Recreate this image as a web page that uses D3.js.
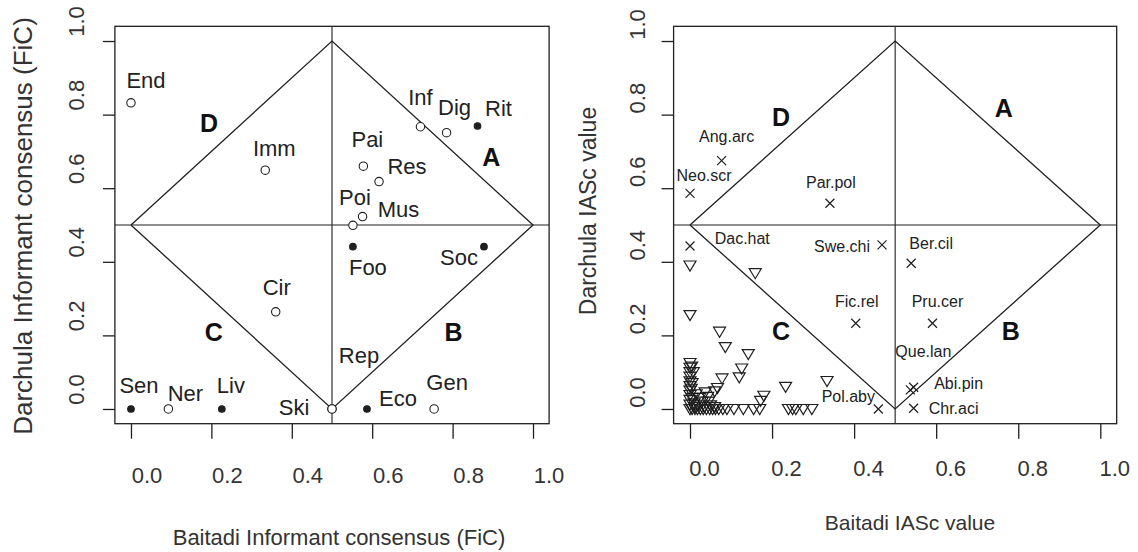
<!DOCTYPE html>
<html>
<head>
<meta charset="utf-8">
<script src="https://cdn.jsdelivr.net/npm/d3@7"></script>
<style>
  body { margin: 0; background: #fff; }
  svg { display: block; font-family: "Liberation Sans", Arial, sans-serif; }
</style>
</head>
<body>
<div id="chart"></div>
<script>
// left panel: informant consensus factor per use category
const ficNames    = ["End", "Imm", "Pai", "Res", "Poi", "Mus", "Inf", "Dig", "Rit", "Foo", "Soc", "Cir", "Sen", "Ner", "Liv", "Ski", "Rep", "Eco", "Gen"];
const ficBaitadi  = [0.0, 0.334, 0.578, 0.617, 0.552, 0.576, 0.72, 0.785, 0.862, 0.552, 0.878, 0.36, 0.0, 0.093, 0.226, 0.5, 0.5, 0.587, 0.754];
const ficDarchula = [0.832, 0.649, 0.66, 0.618, 0.499, 0.523, 0.767, 0.751, 0.769, 0.441, 0.441, 0.264, 0.0, 0.0, 0.0, 0.0, 0.0, 0.0, 0.0];
const ficFilled   = [false, false, false, false, false, false, false, false, true, true, true, false, true, false, true, false, false, true, false];

// right panel: labelled species (crosses)
const iasNames    = ["Ang.arc", "Neo.scr", "Par.pol", "", "Swe.chi", "Ber.cil", "Fic.rel", "Pru.cer", "Que.lan", "Abi.pin", "Chr.aci", "Pol.aby"];
const iasBaitadi  = [0.077, 0.0, 0.341, 0.0, 0.468, 0.539, 0.404, 0.591, 0.537, 0.545, 0.545, 0.459];
const iasDarchula = [0.675, 0.586, 0.559, 0.443, 0.446, 0.396, 0.233, 0.233, 0.052, 0.059, 0.002, 0.0];

// right panel: other species (triangles), first one is labelled
const triNames    = ["Dac.hat"];
const triBaitadi  = [0.159, 0.0, 0.0, 0.072, 0.086, 0.142, 0.126, 0.12, 0.078, 0.067, 0.037, 0.043, 0.233, 0.334, 0.18, 0.172, 0.06,
                     0.0, 0.0, 0.0, 0.0, 0.0, 0.0, 0.0, 0.0, 0.0, 0.0, 0.0,
                     0.004, 0.008, 0.005, 0.003, 0.006, 0.01, 0.015, 0.02, 0.03, 0.012, 0.035, 0.05, 0.06, 0.024, 0.045,
                     0.005, 0.012, 0.018, 0.025, 0.032, 0.04, 0.048, 0.055, 0.062, 0.07, 0.08, 0.09, 0.107, 0.13, 0.155, 0.17, 0.24, 0.25, 0.258, 0.276, 0.297];
const triDarchula = [0.369, 0.39, 0.255, 0.21, 0.168, 0.149, 0.11, 0.086, 0.083, 0.057, 0.045, 0.033, 0.06, 0.076, 0.036, 0.022, 0.048,
                     0.125, 0.112, 0.1, 0.088, 0.075, 0.062, 0.05, 0.038, 0.025, 0.012, 0.0,
                     0.115, 0.1, 0.07, 0.055, 0.03, 0.015, 0.04, 0.01, 0.02, 0.005, 0.005, 0.01, 0.005, 0.03, 0.02,
                     0.0, 0.0, 0.0, 0.0, 0.0, 0.0, 0.0, 0.0, 0.0, 0.0, 0.0, 0.0, 0.0, 0.0, 0.0, 0.0, 0.0, 0.0, 0.0, 0.0, 0.0];

const axisTicks = [0, 0.2, 0.4, 0.6, 0.8, 1.0];
const quadLetters = ["A", "B", "C", "D"];
const ficQuadX = [0.896, 0.802, 0.206, 0.194];
const ficQuadY = [0.685, 0.209, 0.209, 0.777];
const iasQuadX = [0.765, 0.782, 0.222, 0.222];
const iasQuadY = [0.817, 0.21, 0.21, 0.794];
const diamond = [[0, 0.5], [0.5, 1], [1, 0.5], [0.5, 0], [0, 0.5]];

// label offsets (px) from each point
const ficLabelOff = [[15,-23],[9,-22],[4,-27],[28,-15],[2,-28],[36,-7],[0,-29],[8,-25],[21,-18],[15,21],[-25,11],[1,-25],[8,-24],[17,-16],[9,-24],[-38,-2],[27,-54],[31,-11],[13,-27]];
const iasLabelOff = [[5,-24],[14,-18],[1,-21],[0,0],[-40,2],[20,-20],[1,-22],[5,-22],[13,-38],[45,-4],[40,0],[-30,-13]];
const triLabelOff = [[-13,-35]];

const ink = "#1f1f1f";
const svg = d3.select("#chart").append("svg").attr("width", 1138).attr("height", 552);

const y = d3.scaleLinear().domain([-0.04, 1.04]).range([423.7, 26.3]);

function drawPanel(p) {
  const x = d3.scaleLinear().domain([-0.04, 1.04]).range(p.xRange);
  const g = svg.append("g");
  const line = d3.line().x(function(d) { return x(d[0]); }).y(function(d) { return y(d[1]); });

  g.append("rect")
    .attr("x", p.xRange[0]).attr("y", y.range()[1])
    .attr("width", p.xRange[1] - p.xRange[0]).attr("height", y.range()[0] - y.range()[1])
    .attr("fill", "none").attr("stroke", ink).attr("stroke-width", 1.3);

  g.append("line").attr("x1", x(0.5)).attr("x2", x(0.5)).attr("y1", y(-0.04)).attr("y2", y(1.04))
    .attr("stroke", ink).attr("stroke-width", 1.1);
  g.append("line").attr("x1", x(-0.04)).attr("x2", x(1.04)).attr("y1", y(0.5)).attr("y2", y(0.5))
    .attr("stroke", ink).attr("stroke-width", 1.1);
  g.append("path").attr("d", line(diamond)).attr("fill", "none").attr("stroke", ink).attr("stroke-width", 1.3);

  // x axis
  const xa = g.append("g").attr("transform", "translate(0," + y.range()[0] + ")")
    .call(d3.axisBottom(x).tickValues(axisTicks).tickSize(15).tickFormat(d3.format(".1f")));
  xa.select(".domain").remove();
  xa.attr("color", ink).attr("font-size", 22).attr("font-family", null);
  xa.selectAll("line").attr("stroke-width", 1.3);
  xa.selectAll("text")
    .attr("x", p.xLabelDx).attr("y", p.xLabelY - y.range()[0]).attr("dy", "0.35em").attr("fill", "#333");

  // y axis
  const ya = g.append("g").attr("transform", "translate(" + p.xRange[0] + ",0)")
    .call(d3.axisLeft(y).tickValues(axisTicks).tickSize(12).tickFormat(d3.format(".1f")));
  ya.select(".domain").remove();
  ya.attr("color", ink).attr("font-size", 22).attr("font-family", null);
  ya.selectAll("line").attr("stroke-width", 1.3);
  ya.selectAll("text")
    .attr("x", null).attr("dy", "0.35em").attr("text-anchor", "middle").attr("fill", "#333")
    .attr("transform", "translate(" + (p.yLabelX - p.xRange[0]) + "," + p.yLabelDy + ") rotate(-90)");

  // titles
  g.append("text").attr("x", p.xTitle[0]).attr("y", p.xTitle[1]).attr("dy", "0.35em")
    .attr("text-anchor", "middle").attr("font-size", p.xTitle[2]).attr("fill", "#333").text(p.xTitleText);
  g.append("text")
    .attr("transform", "translate(" + p.yTitle[0] + "," + p.yTitle[1] + ") rotate(-90)")
    .attr("dy", "0.35em").attr("text-anchor", "middle").attr("font-size", p.yTitle[2]).attr("fill", "#333")
    .text(p.yTitleText);

  // quadrant letters
  g.selectAll(".quad").data(quadLetters).enter().append("text")
    .attr("class", "quad")
    .attr("x", function(d, i) { return x(p.quadX[i]); })
    .attr("y", function(d, i) { return y(p.quadY[i]); })
    .attr("dy", "0.35em").attr("text-anchor", "middle")
    .attr("font-size", 25).attr("font-weight", "bold").attr("fill", "#111")
    .text(function(d) { return d; });

  return { g: g, x: x };
}

// ---- left panel
const left = drawPanel({
  xRange: [114.9, 549.1], xLabelDx: 15.5, xLabelY: 475, yLabelX: 76, yLabelDy: -20,
  xTitle: [339, 537, 22], xTitleText: "Baitadi Informant consensus (FiC)",
  yTitle: [23, 226, 26], yTitleText: "Darchula Informant consensus (FiC)",
  quadX: ficQuadX, quadY: ficQuadY
});

left.g.selectAll(".fic").data(ficNames).enter().append("circle")
  .attr("class", "fic")
  .attr("cx", function(d, i) { return left.x(ficBaitadi[i]); })
  .attr("cy", function(d, i) { return y(ficDarchula[i]); })
  .attr("r", function(d, i) { return ficFilled[i] ? 3.3 : 4.2; })
  .attr("fill", function(d, i) { return ficFilled[i] ? ink : "#fff"; })
  .attr("stroke", ink).attr("stroke-width", 1.1);

left.g.selectAll(".ficlab").data(ficNames).enter().append("text")
  .attr("class", "ficlab")
  .attr("x", function(d, i) { return left.x(ficBaitadi[i]) + ficLabelOff[i][0]; })
  .attr("y", function(d, i) { return y(ficDarchula[i]) + ficLabelOff[i][1]; })
  .attr("dy", "0.35em").attr("text-anchor", "middle")
  .attr("font-size", 22).attr("fill", "#222")
  .text(function(d) { return d; });

// ---- right panel
const right = drawPanel({
  xRange: [673.6, 1116.7], xLabelDx: 14, xLabelY: 468, yLabelX: 637, yLabelDy: -17,
  xTitle: [910, 523, 21], xTitleText: "Baitadi IASc value",
  yTitle: [588, 211, 23], yTitleText: "Darchula IASc value",
  quadX: iasQuadX, quadY: iasQuadY
});

right.g.selectAll(".tri").data(triBaitadi).enter().append("path")
  .attr("class", "tri")
  .attr("transform", function(d, i) { return "translate(" + right.x(d) + "," + y(triDarchula[i]) + ")"; })
  .attr("d", "M-6,-4.5L6,-4.5L0,5.5Z")
  .attr("fill", "none").attr("stroke", ink).attr("stroke-width", 1.2);

right.g.selectAll(".trilab").data(triNames).enter().append("text")
  .attr("class", "trilab")
  .attr("x", function(d, i) { return right.x(triBaitadi[i]) + triLabelOff[i][0]; })
  .attr("y", function(d, i) { return y(triDarchula[i]) + triLabelOff[i][1]; })
  .attr("dy", "0.35em").attr("text-anchor", "middle")
  .attr("font-size", 16).attr("fill", "#222")
  .text(function(d) { return d; });

right.g.selectAll(".cross").data(iasBaitadi).enter().append("path")
  .attr("class", "cross")
  .attr("transform", function(d, i) { return "translate(" + right.x(d) + "," + y(iasDarchula[i]) + ")"; })
  .attr("d", "M-4.5,-4.5L4.5,4.5M-4.5,4.5L4.5,-4.5")
  .attr("fill", "none").attr("stroke", ink).attr("stroke-width", 1.2);

right.g.selectAll(".iaslab").data(iasNames).enter().append("text")
  .attr("class", "iaslab")
  .attr("x", function(d, i) { return right.x(iasBaitadi[i]) + iasLabelOff[i][0]; })
  .attr("y", function(d, i) { return y(iasDarchula[i]) + iasLabelOff[i][1]; })
  .attr("dy", "0.35em").attr("text-anchor", "middle")
  .attr("font-size", 16).attr("fill", "#222")
  .text(function(d) { return d; });
</script>
</body>
</html>
